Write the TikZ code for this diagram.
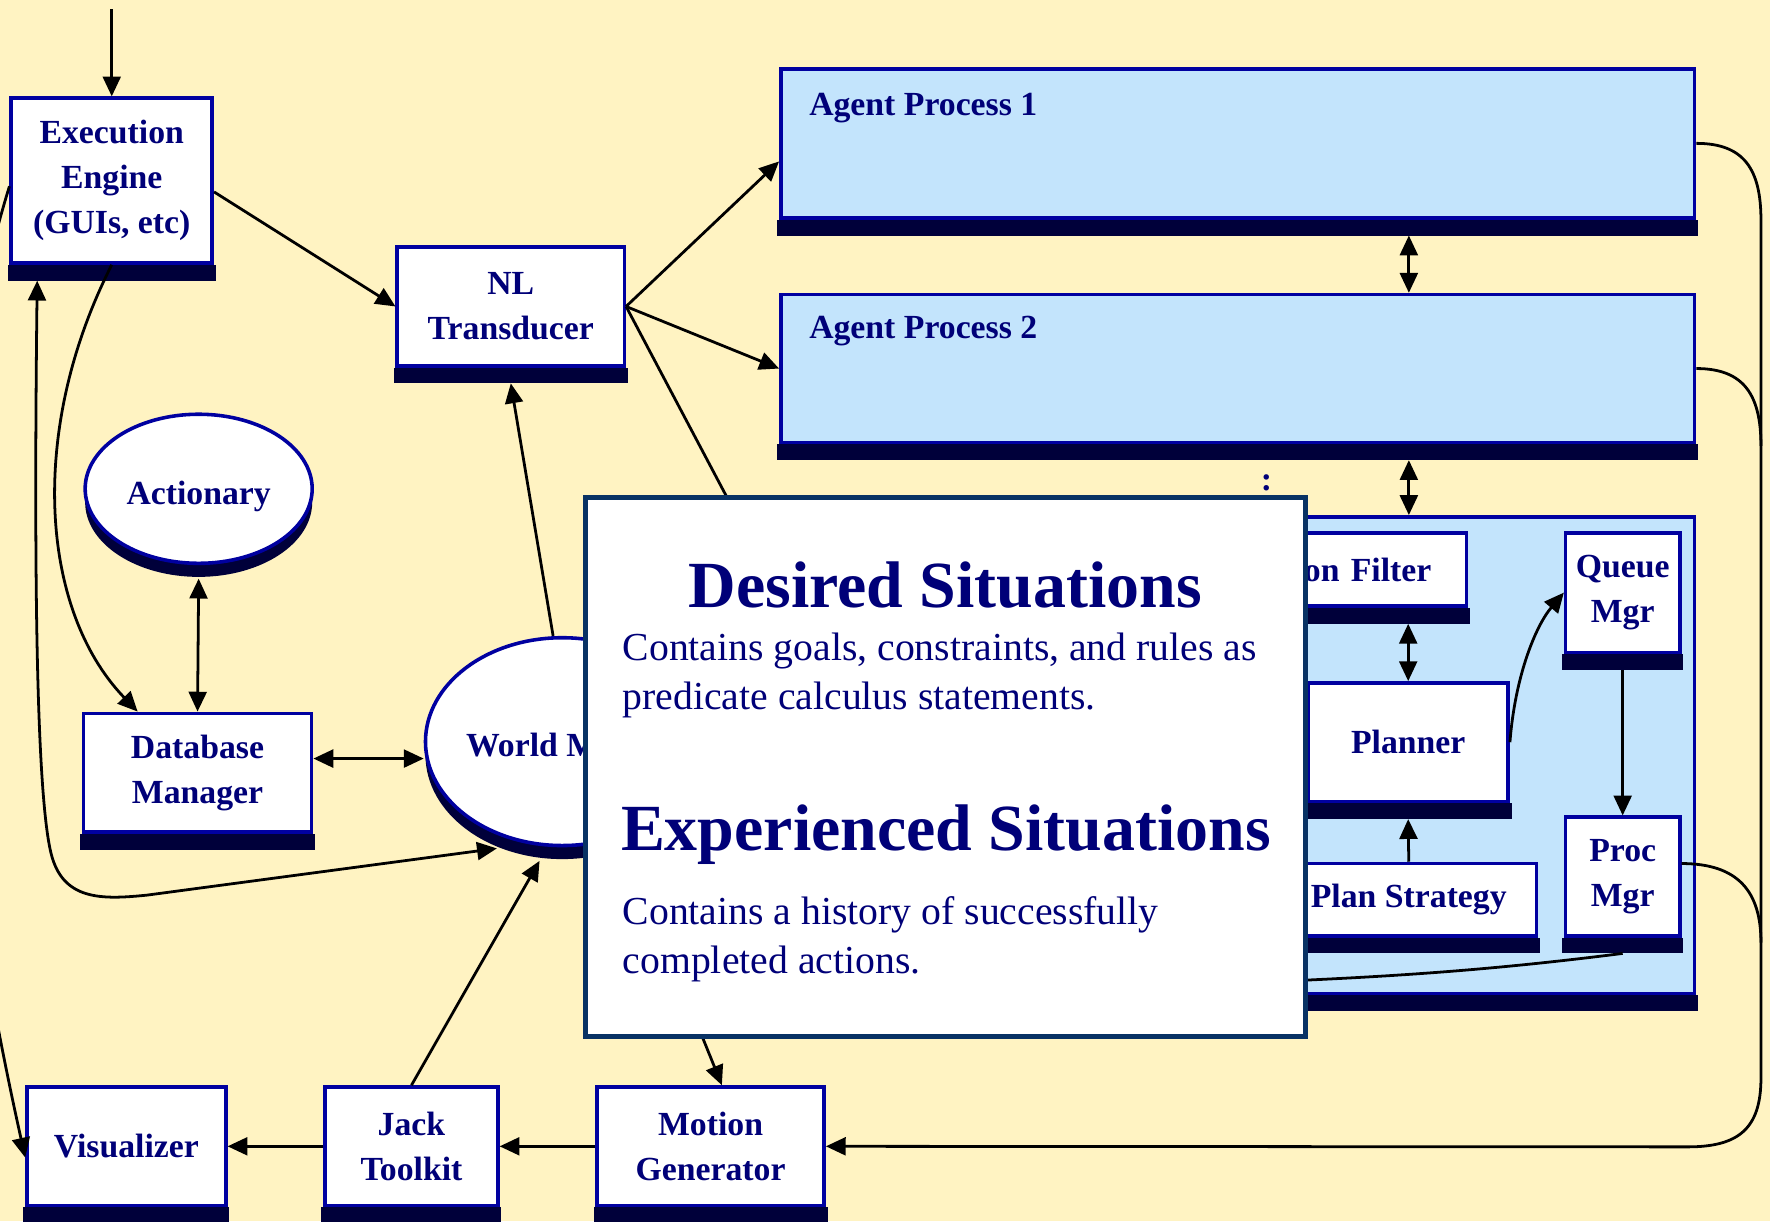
\documentclass[tikz,border=0pt]{standalone}
\usepackage{fontspec}
\setmainfont{Liberation Serif}
\usepackage{xcolor}
\usetikzlibrary{positioning,arrows.meta,shapes.geometric,shadows}

\definecolor{bgc}{RGB}{255,243,194}
\definecolor{navyt}{RGB}{0,0,120}
\definecolor{navyb}{RGB}{0,0,160}
\definecolor{barc}{RGB}{0,0,58}
\definecolor{agentc}{RGB}{195,228,252}
\definecolor{ovc}{RGB}{8,50,100}

\newcommand{\lblfont}{\fontsize{8.5}{11.4}\selectfont\bfseries}

\begin{document}
\begin{tikzpicture}[
  x=0.01cm, y=-0.01cm,
  basebar/.style={append after command={\pgfextra{\let\barnode\tikzlastnode
      \fill[barc] ([xshift=-0.45pt]\barnode.south west) rectangle ([xshift=0.45pt, yshift=-1.4mm]\barnode.south east);}}},
  block/.style={draw=navyb, line width=0.9pt, fill=white, text=navyt, font=\lblfont,
                align=center, inner sep=0pt, basebar},
  agent/.style={block, fill=agentc},
  blob/.style={ellipse, draw=navyb, line width=0.9pt, fill=white, text=navyt, font=\lblfont, inner sep=0pt,
               drop shadow={shadow xshift=0pt, shadow yshift=-1.2mm, fill=barc, opacity=1}},
  ptitle/.style={text=navyt, font=\lblfont, inner sep=0pt, anchor=west},
  overlay/.style={draw=ovc, line width=1.3pt, fill=white},
  head/.style={text=navyt, font=\fontsize{16.6}{20}\selectfont\bfseries, inner sep=0pt},
  body/.style={text=navyt, font=\fontsize{10}{12.2}\selectfont, align=left, inner sep=0pt, anchor=west},
  arr/.style={-{Triangle[length=5pt,width=4.5pt]}, line width=0.7pt},
  dbl/.style={{Triangle[length=5pt,width=4.5pt]}-{Triangle[length=5pt,width=4.5pt]}, line width=0.7pt},
  wire/.style={line width=0.7pt},
]

% --- Background ---
\path[use as bounding box, fill=bgc] (0,0) rectangle (1568,1082);

% --- Left column ---
\node[block, minimum width=1.78cm, minimum height=1.46cm] (exec) at (99,160) {Execution\\Engine\\(GUIs, etc)};
\node[blob, minimum width=2.01cm, minimum height=1.32cm] (actionary) at (176,433) {\raisebox{-0.7mm}[\height][\depth]{Actionary}};
\node[block, minimum width=2.02cm, minimum height=1.05cm] (dbm) at (175,684.5) {Database\\Manager};
\node[block, minimum width=2.01cm, minimum height=1.05cm] (nl) at (452.5,271.5) {NL\\Transducer};
\node[blob, minimum width=2.42cm, minimum height=1.84cm] (world) at (498,657) {\raisebox{-0.3mm}[\height][\depth]{World Model}};

% --- Output row ---
\node[block, minimum width=2.01cm, minimum height=1.05cm] (motion) at (629.5,1015.5) {Motion\\Generator};
\node[block, minimum width=1.53cm, minimum height=1.05cm] (jack) at (364.5,1015.5) {Jack\\Toolkit};
\node[block, minimum width=1.76cm, minimum height=1.05cm] (vis) at (112,1015.5) {Visualizer};

% --- Agent processes ---
\node[agent, minimum width=8.09cm, minimum height=1.32cm] (ap1) at (1096.5,127) {};
\node[ptitle] (ap1t) at ([xshift=2.6mm, yshift=-3.6mm]ap1.north west) {Agent Process 1};
\node[agent, minimum width=8.09cm, minimum height=1.31cm] (ap2) at (1096.5,326.5) {};
\node[ptitle] (ap2t) at ([xshift=2.6mm, yshift=-3.4mm]ap2.north west) {Agent Process 2};
\node[text=navyt, font=\lblfont, inner sep=0pt] (dots) at (1122,428) {:};
\node[agent, minimum width=8.09cm, minimum height=4.22cm] (ap3) at (1096.5,669) {};

% --- Inside agent process n ---
\node[block, minimum width=2.59cm, minimum height=0.65cm, text width=1.97cm, inner xsep=0.31cm, align=right] (filter) at (1169.5,504.5) {on Filter};
\node[block, minimum width=1.01cm, minimum height=1.06cm] (queue) at (1437.5,525) {Queue\\Mgr};
\node[block, minimum width=1.77cm, minimum height=1.05cm] (planner) at (1247.5,657.5) {Planner};
\node[block, minimum width=2.26cm, minimum height=0.64cm] (strategy) at (1248,797) {Plan Strategy};
\node[block, minimum width=1.01cm, minimum height=1.05cm] (proc) at (1437.5,776.5) {Proc\\Mgr};

% --- Free ends ---
\coordinate (in) at (99,8);
\coordinate (mg) at (560,765);
\coordinate (pin) at (1100,657);
\coordinate (pout) at (1000,874);
\coordinate (fb) at ([yshift=-1.4mm]filter.south);

% --- Edges ---
\draw[arr] (in) -- (exec.north);
\draw[arr] ([yshift=-1mm]exec.east) -- (nl.west);
\draw[arr] (nl.east) -- ([yshift=-1.6mm]ap1.west);
\draw[arr] (nl.east) -- (ap2.west);
\draw[arr] (nl.east) -- ([yshift=1.41cm]ap3.west);
\draw[dbl] ([xshift=1.515cm, yshift=-1.4mm]ap1.south) -- ([xshift=1.515cm]ap2.north);
\draw[dbl] ([xshift=1.515cm, yshift=-1.4mm]ap2.south) -- ([xshift=1.515cm]ap3.north);

\draw[dbl] (fb -| planner.north) -- (planner.north);
\draw[arr] (strategy.north) -- ([yshift=-1.4mm]planner.south);
\draw[wire] (pin) -- (planner.west);
\draw[arr] (planner.east) .. controls (1342,600) and (1360,555) .. (queue.west);
\draw[arr] ([yshift=-1.4mm]queue.south) -- (proc.north);
\draw[wire] ([yshift=-1.4mm]proc.south) .. controls (1300,862) and (1200,868) .. (pout);

\draw[arr] (ap1.east) .. controls (1545,127) and (1560,150) .. (1560,195)
  -- (1560,955) .. controls (1560,1000) and (1540,1016) .. (1495,1016) -- (motion.east);
\draw[wire] (ap2.east) .. controls (1545,326.5) and (1560,350) .. (1560,395);
\draw[wire] ([yshift=1.15mm]proc.east) .. controls (1540,765) and (1560,790) .. (1560,835);

\draw[arr] (exec.south) .. controls (25,380) and (35,540) .. ([xshift=-0.53cm]dbm.north);
\draw[dbl] ([xshift=-0.66cm, yshift=-1.4mm]exec.south) .. controls (30,500) and (32,700) .. (45,755)
  .. controls (55,798) and (90,797) .. (130,793) -- ([yshift=-1.2mm]world.235);
\draw[dbl] ([yshift=-1.2mm]actionary.south) -- (dbm.north);
\draw[dbl] ([yshift=1.25mm]dbm.east) -- ([yshift=-1.5mm]world.west);
\draw[arr] ([xshift=-0.08cm]world.north) -- ([yshift=-1.4mm]nl.south);
\draw[arr] (jack.north) -- ([xshift=-0.2cm, yshift=-1.2mm]world.south);
\draw[arr] (motion.west) -- (jack.east);
\draw[arr] (jack.west) -- (vis.east);
\draw[arr] ([yshift=-0.5mm]exec.west) .. controls (-70,420) and (-50,700) .. ([yshift=-1mm]vis.west);
\draw[arr] (mg) -- ([xshift=1mm]motion.north);

% --- Overlay panel ---
\node[overlay, minimum width=6.37cm, minimum height=4.77cm] (ov) at (837.5,679.5) {};
\node[head] (h1) at (837.5,518) {Desired Situations};
\node[body] (b1) at (551,598.5) {Contains goals, constraints, and rules as\\predicate calculus statements.};
\node[head] (h2) at (838,739) {Experienced Situations};
\node[body] (b2) at (551,832) {Contains a history of successfully\\completed actions.};

\end{tikzpicture}
\end{document}
